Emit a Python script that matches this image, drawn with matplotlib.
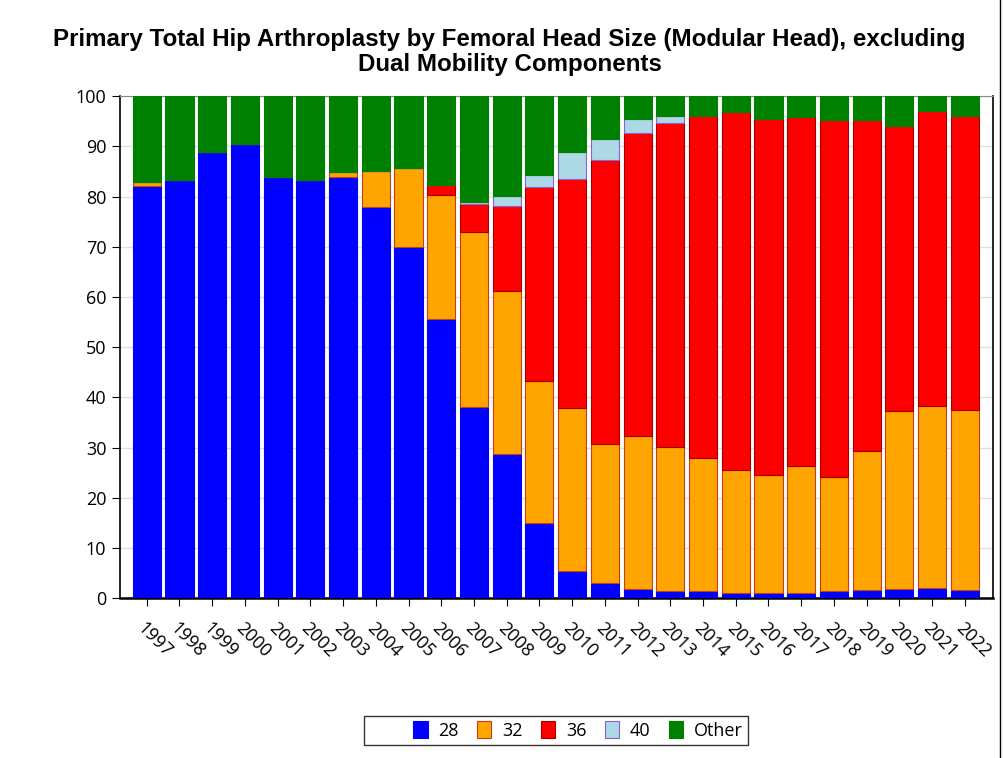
import numpy as np
import matplotlib
matplotlib.use("Agg")
import matplotlib.pyplot as plt
from matplotlib.lines import Line2D
from matplotlib.patches import Patch

years = [str(y) for y in range(1997, 2023)]

# percent of primary THA by femoral head size
head_28 = [82.2, 83.4, 88.8, 90.4, 84.0, 83.4, 84.0, 78.0, 70.0, 55.6, 38.0, 28.8, 15.0,
           5.4, 3.0, 1.8, 1.5, 1.5, 1.1, 1.1, 1.0, 1.4, 1.7, 1.8, 2.0, 1.7]
head_32 = [0.8, 0.0, 0.0, 0.0, 0.0, 0.0, 1.0, 7.2, 15.8, 24.8, 35.0, 32.4, 28.2,
           32.4, 27.8, 30.4, 28.7, 26.5, 24.5, 23.5, 25.4, 22.8, 27.7, 35.4, 36.3, 35.8]
head_36 = [0.0, 0.0, 0.0, 0.0, 0.0, 0.0, 0.0, 0.0, 0.0, 2.0, 5.6, 17.0, 38.8,
           45.8, 56.4, 60.4, 64.4, 68.0, 71.2, 70.8, 69.4, 71.0, 65.8, 56.8, 58.7, 58.5]
head_40 = [0.0, 0.0, 0.0, 0.0, 0.0, 0.0, 0.0, 0.0, 0.0, 0.0, 0.4, 2.0, 2.4,
           5.2, 4.2, 2.8, 1.4, 0.1, 0.0, 0.0, 0.0, 0.0, 0.0, 0.0, 0.0, 0.0]
head_other = list(100 - np.array(head_28) - np.array(head_32) - np.array(head_36) - np.array(head_40))

series = [("28", head_28, "#0000ff", "#0000ff"),
          ("32", head_32, "#ffa500", "#c04020"),
          ("36", head_36, "#ff0000", "#a00000"),
          ("40", head_40, "#add8e6", "#9060d0"),
          ("Other", head_other, "#008000", "#008000")]

plt.rcParams["font.family"] = ["Open Sans", "DejaVu Sans"]

fig = plt.figure(figsize=(10.05, 7.58), dpi=100)
ax = fig.add_axes([0.119, 0.211, 0.869, 0.662])

x = np.arange(len(years))
bottom = np.zeros(len(years))
handles = [Patch(facecolor="none", edgecolor="none")]  # blank slot on the left, like SAS
labels = [""]
for name, vals, col, edge in series:
    b = ax.bar(x, vals, bottom=bottom, width=0.86, color=col, edgecolor=edge,
               linewidth=0.8, label=name, zorder=3)
    handles.append(b)
    labels.append(name)
    bottom += np.array(vals)

ax.set_ylim(0, 100)
ax.set_xlim(-0.83, 25.86)
ax.set_yticks(range(0, 101, 10))
ax.set_xticks(x)
ax.set_xticklabels(years, rotation=-45, ha="left", rotation_mode="anchor", fontsize=13)
ax.tick_params(axis="y", labelsize=13, length=6)
ax.tick_params(axis="x", pad=9, length=6)
ax.yaxis.grid(True, color="#e0e0e0", linewidth=1, zorder=0)
ax.set_axisbelow(True)

ax.spines["top"].set_color("#888888")
ax.spines["bottom"].set_linewidth(1.8)
ax.spines["left"].set_linewidth(1.2)
ax.spines["right"].set_linewidth(1.2)

fig.text(0.507, 0.931, "Primary Total Hip Arthroplasty by Femoral Head Size (Modular Head), excluding\n"
         "Dual Mobility Components", fontsize=17.4, fontweight="bold", ha="center", va="center",
         family="Liberation Sans", linespacing=1.12)

leg = ax.legend(handles, labels, loc="upper center", bbox_to_anchor=(0.5, -0.235), ncol=6,
                fontsize=13, frameon=True, fancybox=False, edgecolor="black",
                handlelength=0.8, handleheight=1.0, columnspacing=1.0, handletextpad=0.6,
                borderpad=0.3, borderaxespad=0)
leg.get_frame().set_linewidth(1.0)

fig.add_artist(Line2D([0.995, 0.995], [0, 1], transform=fig.transFigure, color="black", linewidth=1))

fig.savefig("out.png", dpi=100)
